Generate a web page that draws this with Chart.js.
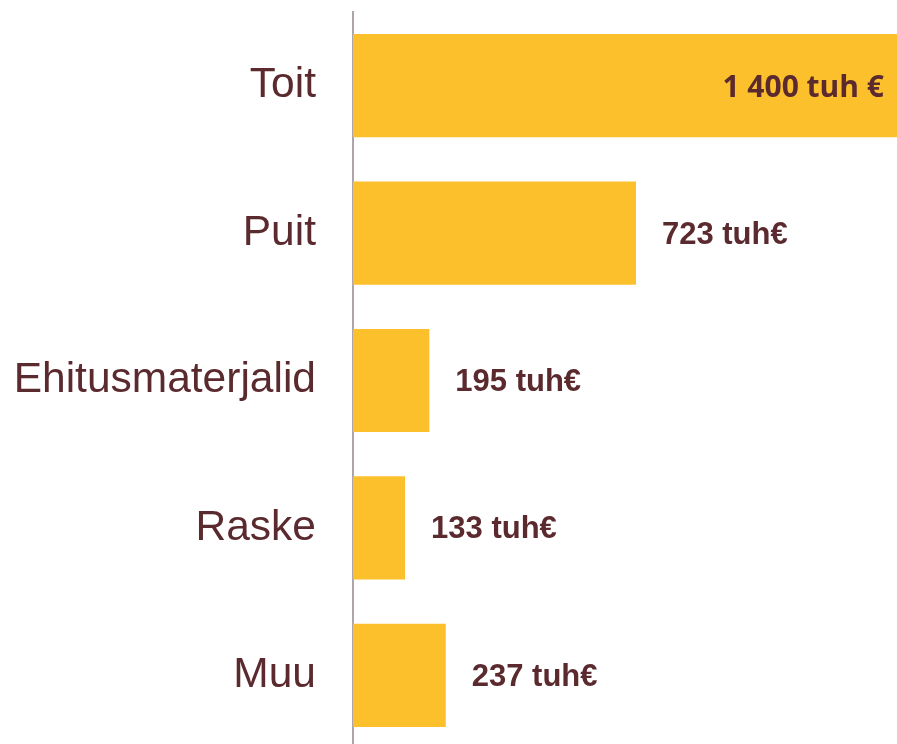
<!DOCTYPE html>
<html>
<head>
<meta charset="utf-8">
<script src="https://cdn.jsdelivr.net/npm/chart.js@4/dist/chart.umd.min.js"></script>
<style>
  html, body { margin: 0; padding: 0; background: #ffffff; overflow: hidden; }
  #wrap { position: relative; width: 897px; height: 749px; }
</style>
</head>
<body>
<div id="wrap"><canvas id="c" width="897" height="749"></canvas></div>
<script>
const categories = ["Toit", "Puit", "Ehitusmaterjalid", "Raske", "Muu"];
const values = [1400, 723, 195, 133, 237];
const valueLabels = ["1 400 tuh €", "723 tuh€", "195 tuh€", "133 tuh€", "237 tuh€"];

const TEXT = "#5B2A2E";
const BAR = "#FCC02C";

const valueLabelPlugin = {
  id: "valueLabels",
  afterDatasetsDraw(chart) {
    const ctx = chart.ctx;
    const area = chart.chartArea;
    const meta = chart.getDatasetMeta(0);
    ctx.save();
    ctx.fillStyle = TEXT;
    ctx.textBaseline = "middle";
    meta.data.forEach((bar, i) => {
      const txt = valueLabels[i];
      ctx.font = "bold 31px 'Liberation Sans', Arial, sans-serif";
      let w = ctx.measureText(txt).width;
      let x = bar.x + 26;
      if (x + w > area.right) {
        ctx.font = "bold 30px 'Open Sans', 'Noto Sans', sans-serif";
        ctx.textAlign = "right";
        ctx.fillText(txt, Math.min(bar.x, area.right) - 13, bar.y + 3);
      } else {
        ctx.textAlign = "left";
        ctx.fillText(txt, x, bar.y + 2);
      }
    });
    ctx.restore();
  }
};

new Chart(document.getElementById("c"), {
  type: "bar",
  data: {
    labels: categories,
    datasets: [{
      data: values,
      backgroundColor: BAR,
      borderWidth: 0,
      barPercentage: 0.7,
      categoryPercentage: 1.0
    }]
  },
  options: {
    indexAxis: "y",
    responsive: false,
    animation: false,
    events: [],
    layout: { padding: { top: 12, right: 0, bottom: 0, left: 0 } },
    plugins: { legend: { display: false }, tooltip: { enabled: false } },
    scales: {
      x: {
        display: false,
        min: 0,
        max: 1390
      },
      y: {
        afterFit(scale) {
          scale.width = 353;
          scale.paddingTop = 0;
          scale.paddingBottom = 0;
        },
        grid: { display: false, drawTicks: false },
        border: { display: true, color: "#ADA5A9", width: 2 },
        ticks: {
          color: TEXT,
          padding: 37,
          font: { family: "'Liberation Sans', Arial, sans-serif", size: 42.5 }
        }
      }
    }
  },
  plugins: [valueLabelPlugin]
});
</script>
</body>
</html>
